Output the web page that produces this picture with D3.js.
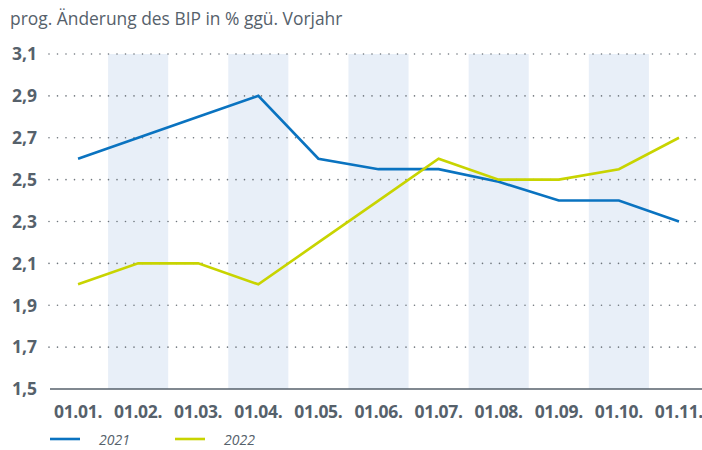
<!DOCTYPE html>
<html>
<head>
<meta charset="utf-8">
<script src="https://cdn.jsdelivr.net/npm/d3@7"></script>
<style>
  html, body { margin: 0; padding: 0; background: #fff; }
  svg { display: block; font-family: "Open Sans", "Noto Sans", sans-serif; }
</style>
</head>
<body>
<svg id="chart" width="702" height="450"></svg>
<script>
// Forecast GDP growth, % vs previous year, by forecast date
const dates = ["01.01.", "01.02.", "01.03.", "01.04.", "01.05.", "01.06.", "01.07.", "01.08.", "01.09.", "01.10.", "01.11."];
const values2021 = [2.6, 2.7, 2.8, 2.9, 2.6, 2.55, 2.55, 2.49, 2.4, 2.4, 2.3];
const values2022 = [2.0, 2.1, 2.1, 2.0, 2.2, 2.4, 2.6, 2.5, 2.5, 2.55, 2.7];
const yTicks = [1.5, 1.7, 1.9, 2.1, 2.3, 2.5, 2.7, 2.9, 3.1];
const seriesNames = ["2021", "2022"];
const colors = ["#0a73c0", "#c8d400"];
const title = "prog. Änderung des BIP in % ggü. Vorjahr";

const svg = d3.select("#chart");
const textColor = "#56616b";

const x = d3.scaleBand().domain(dates).range([48, 709]).padding(0);
const xc = d => x(d) + x.bandwidth() / 2;
const y = d3.scaleLinear().domain([1.5, 3.1]).range([389, 54]);

// alternating shaded columns
svg.append("g").selectAll("rect")
  .data(dates.filter((d, i) => i % 2 === 1))
  .join("rect")
  .attr("x", d => x(d))
  .attr("y", y(3.1))
  .attr("width", x.bandwidth())
  .attr("height", y(1.5) - y(3.1))
  .attr("fill", "#e8eff8");

// dotted gridlines
svg.append("g").selectAll("line")
  .data(yTicks.slice(1))
  .join("line")
  .attr("x1", 49).attr("x2", 702)
  .attr("y1", d => y(d)).attr("y2", d => y(d))
  .attr("stroke", "#6e757c")
  .attr("stroke-width", 1.6)
  .attr("stroke-linecap", "round")
  .attr("stroke-dasharray", "0 8.5");

// y axis labels
svg.append("g").selectAll("text")
  .data(yTicks)
  .join("text")
  .attr("x", 37)
  .attr("y", d => y(d))
  .attr("dy", "0.36em")
  .attr("text-anchor", "end")
  .attr("font-size", 17.5)
  .attr("font-weight", 700)
  .attr("fill", textColor)
  .text(d => d3.format(".1f")(d).replace(".", ","));

// baseline
svg.append("line")
  .attr("x1", 50).attr("x2", 702)
  .attr("y1", y(1.5)).attr("y2", y(1.5))
  .attr("stroke", "#56616b").attr("stroke-width", 1.5);

// x axis labels
svg.append("g").selectAll("text")
  .data(dates)
  .join("text")
  .attr("x", d => xc(d))
  .attr("y", 418)
  .attr("text-anchor", "middle")
  .attr("font-size", 17.5)
  .attr("font-weight", 700)
  .attr("fill", textColor)
  .attr("letter-spacing", -0.3)
  .text(d => d);

// lines
const line = d3.line().x((d, i) => xc(dates[i])).y(d => y(d));
[values2021, values2022].forEach((vals, k) => {
  svg.append("path")
    .datum(vals)
    .attr("d", line)
    .attr("fill", "none")
    .attr("stroke", colors[k])
    .attr("stroke-width", 2.6)
    .attr("stroke-linejoin", "miter");
});

// title
svg.append("text")
  .attr("x", 10).attr("y", 25)
  .attr("font-size", 17.4)
  .attr("fill", textColor)
  .text(title);

// legend
const legend = svg.append("g").selectAll("g")
  .data(seriesNames)
  .join("g")
  .attr("transform", (d, i) => `translate(${50 + i * 125},439)`);
legend.append("line")
  .attr("x1", 0).attr("x2", 30)
  .attr("stroke", (d, i) => colors[i])
  .attr("stroke-width", 2.6);
legend.append("text")
  .attr("x", 49).attr("dy", "0.4em")
  .attr("font-size", 14)
  .attr("font-style", "italic")
  .attr("fill", textColor)
  .text(d => d);
</script>
</body>
</html>
